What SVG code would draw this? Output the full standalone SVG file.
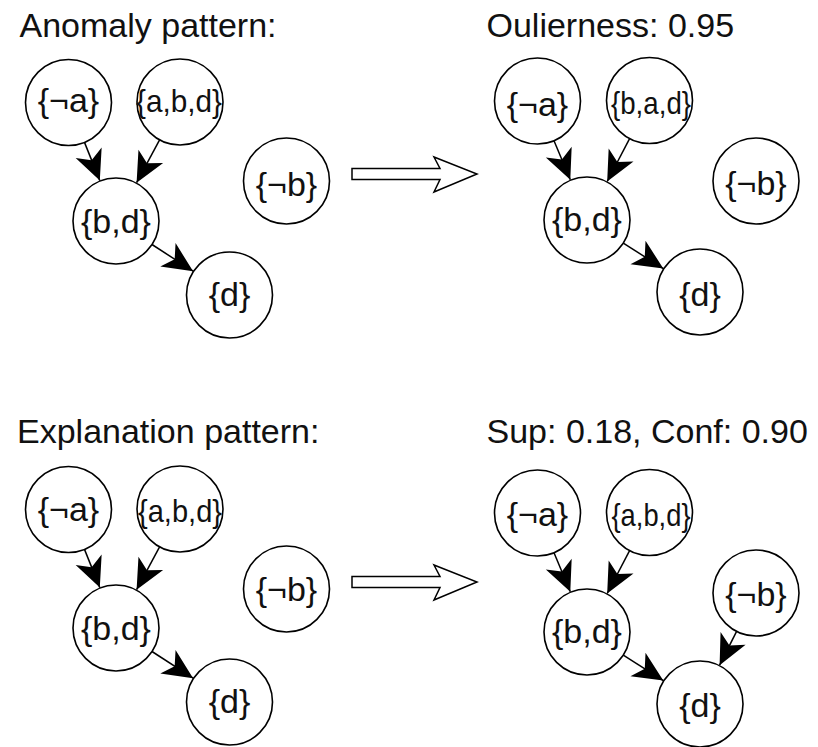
<svg xmlns="http://www.w3.org/2000/svg" width="818" height="747" viewBox="0 0 818 747">
  <style>
    .title { font-family: "Liberation Sans", Arial, sans-serif; font-size: 34px; fill: #111; }
    .node circle { fill: #fff; stroke: #000; stroke-width: 1.6; }
    .node text { font-family: "Liberation Sans", Arial, sans-serif; font-size: 34px; fill: #111; text-anchor: middle; }
    .node text.wide { font-size: 32px; }
    .edge { stroke: #000; stroke-width: 1.5; fill: none; marker-end: url(#barb); }
    .implies { fill: #fff; stroke: #000; stroke-width: 1.5; stroke-linejoin: miter; }
  </style>
  <defs>
    <!-- filled, notched arrowhead; tip sits on the target circle -->
    <marker id="barb" markerUnits="userSpaceOnUse" viewBox="0 0 30 28" markerWidth="30" markerHeight="28" refX="30" refY="14" orient="auto" overflow="visible">
      <path d="M30,14 L0,0 L8,14 L0,28 Z" fill="#000"/>
    </marker>
  </defs>
  <rect width="818" height="747" fill="#fff"/>

  <!-- headings -->
  <text class="title" x="19.5" y="37">Anomaly pattern:</text>
  <text class="title" x="486.5" y="37">Oulierness: 0.95</text>
  <text class="title" x="17" y="443">Explanation pattern:</text>
  <text class="title" x="486.5" y="443">Sup: 0.18, Conf: 0.90</text>

  <!-- "implies" arrows between the panels -->
  <g id="implies">
    <polygon class="implies" points="352,168.5 440,168.5 434,157 477,174 434,192 440,179.5 352,179.5"/>
    <polygon class="implies" points="352,576.5 440,576.5 434,565 477,582 434,600 440,587.5 352,587.5"/>
  </g>

  <!-- connectors -->
  <g id="edges">
    <!-- anomaly pattern -->
    <line class="edge" x1="84.5" y1="142.4" x2="99.8" y2="180.6"/>
    <line class="edge" x1="159.6" y1="139.9" x2="136.6" y2="182.7"/>
    <line class="edge" x1="152.0" y1="244.5" x2="193.1" y2="271.2"/>
    <!-- outlierness result -->
    <line class="edge" x1="554.0" y1="140.7" x2="570.3" y2="179.8"/>
    <line class="edge" x1="629.6" y1="138.6" x2="607.2" y2="181.5"/>
    <line class="edge" x1="623.3" y1="243.1" x2="663.3" y2="268.6"/>
    <!-- explanation pattern -->
    <line class="edge" x1="84.5" y1="549.4" x2="99.8" y2="587.6"/>
    <line class="edge" x1="159.6" y1="546.9" x2="136.6" y2="589.7"/>
    <line class="edge" x1="152.0" y1="651.5" x2="193.1" y2="678.2"/>
    <!-- support / confidence result -->
    <line class="edge" x1="554.0" y1="552.7" x2="570.3" y2="591.8"/>
    <line class="edge" x1="629.6" y1="550.6" x2="607.2" y2="593.5"/>
    <line class="edge" x1="623.3" y1="655.1" x2="663.3" y2="680.6"/>
    <line class="edge" x1="736.6" y1="631.4" x2="719.6" y2="665.2"/>
  </g>

  <!-- anomaly pattern nodes -->
  <g id="a-not-a" class="node"><circle cx="68.5" cy="102.5" r="43"/><text x="68.5" y="112">{¬a}</text></g>
  <g id="a-abd" class="node"><circle cx="180" cy="102" r="43"/><text class="wide" x="179" y="112" textLength="86" lengthAdjust="spacingAndGlyphs">{a,b,d}</text></g>
  <g id="a-bd" class="node"><circle cx="116" cy="221" r="43"/><text x="116" y="233">{b,d}</text></g>
  <g id="a-d" class="node"><circle cx="229.5" cy="295" r="43"/><text x="229.5" y="306">{d}</text></g>
  <g id="a-not-b" class="node"><circle cx="286.5" cy="181" r="43"/><text x="286.5" y="196">{¬b}</text></g>

  <!-- outlierness result nodes -->
  <g id="o-not-a" class="node"><circle cx="537.5" cy="101" r="43"/><text x="537.5" y="115.5">{¬a}</text></g>
  <g id="o-bad" class="node"><circle cx="649.5" cy="100.5" r="43"/><text class="wide" x="651" y="114" textLength="80" lengthAdjust="spacingAndGlyphs">{b,a,d}</text></g>
  <g id="o-bd" class="node"><circle cx="587" cy="220" r="43"/><text x="587" y="230.5">{b,d}</text></g>
  <g id="o-d" class="node"><circle cx="700" cy="292" r="43"/><text x="700" y="305.5">{d}</text></g>
  <g id="o-not-b" class="node"><circle cx="756" cy="181" r="43"/><text x="756" y="194.5">{¬b}</text></g>

  <!-- explanation pattern nodes -->
  <g id="e-not-a" class="node"><circle cx="68.5" cy="509.5" r="43"/><text x="68.5" y="521">{¬a}</text></g>
  <g id="e-abd" class="node"><circle cx="180" cy="509" r="43"/><text class="wide" x="180" y="522" textLength="84" lengthAdjust="spacingAndGlyphs">{a,b,d}</text></g>
  <g id="e-bd" class="node"><circle cx="116" cy="628" r="43"/><text x="116" y="639.5">{b,d}</text></g>
  <g id="e-d" class="node"><circle cx="229.5" cy="702" r="43"/><text x="229.5" y="713">{d}</text></g>
  <g id="e-not-b" class="node"><circle cx="286.5" cy="589" r="43"/><text x="286.5" y="601">{¬b}</text></g>

  <!-- support / confidence result nodes -->
  <g id="s-not-a" class="node"><circle cx="537.5" cy="513" r="43"/><text x="537.5" y="526">{¬a}</text></g>
  <g id="s-abd" class="node"><circle cx="649.5" cy="512.5" r="43"/><text class="wide" x="651" y="525.5" textLength="79" lengthAdjust="spacingAndGlyphs">{a,b,d}</text></g>
  <g id="s-bd" class="node"><circle cx="587" cy="632" r="43"/><text x="587" y="643">{b,d}</text></g>
  <g id="s-not-b" class="node"><circle cx="756" cy="593" r="43"/><text x="756" y="606">{¬b}</text></g>
  <g id="s-d" class="node"><circle cx="700" cy="704" r="43"/><text x="700" y="717">{d}</text></g>
</svg>
